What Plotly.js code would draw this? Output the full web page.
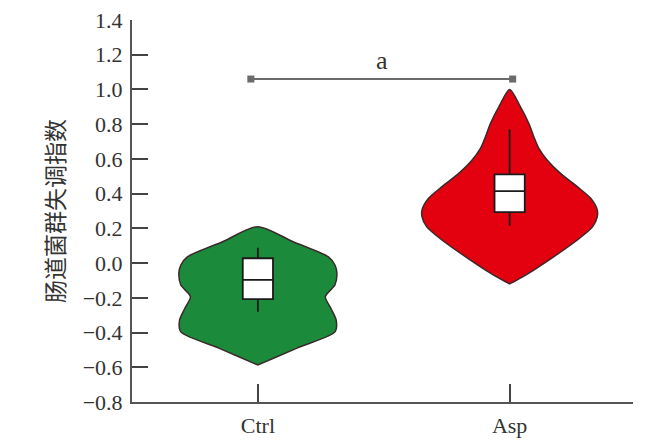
<!DOCTYPE html>
<html>
<head>
<meta charset="utf-8">
<script src="https://cdn.plot.ly/plotly-3.0.1.min.js"></script>
<style>
  html, body { margin: 0; padding: 0; background: #fff; }
  #chart { width: 664px; height: 446px; }
</style>
</head>
<body>
<div id="chart"></div>
<script>
const groups = ["Ctrl", "Asp"];
const groupPos = [0, 1];

// violin outlines: y level and half width (x units)
const ctrlY = [0.21, 0.123, 0.037, -0.011, -0.059, -0.126, -0.193, -0.26, -0.328, -0.395, -0.491, -0.587];
const ctrlHalf = [0, 0.14, 0.279, 0.306, 0.314, 0.306, 0.268, 0.29, 0.311, 0.307, 0.153, 0];
const aspY = [1.0, 0.9, 0.805, 0.728, 0.661, 0.594, 0.517, 0.44, 0.373, 0.306, 0.267, 0.21, 0.133, 0.037, -0.04, -0.097, -0.12];
const aspHalf = [0, 0.043, 0.076, 0.096, 0.116, 0.149, 0.202, 0.269, 0.322, 0.348, 0.348, 0.33, 0.269, 0.176, 0.096, 0.03, 0];

// box statistics
const q1 = [-0.207, 0.293];
const median = [-0.097, 0.415];
const q3 = [0.028, 0.511];
const lowerFence = [-0.28, 0.215];
const upperFence = [0.089, 0.77];

// significance bracket
const bracketX = [-0.028, 1.012];
const bracketY = [1.06, 1.06];
const bracketLabel = "a";

const colors = ["#1b8a3a", "#e3000f"];
const serif = "Liberation Serif, Times New Roman, serif";
const xRange = [-0.5, 1.49];

function violinOutline(center, ys, halves, color, name) {
  const x = [];
  const y = [];
  for (let i = 0; i < ys.length; i++) {
    x.push(center + halves[i]);
    y.push(ys[i]);
  }
  for (let i = ys.length - 1; i >= 0; i--) {
    x.push(center - halves[i]);
    y.push(ys[i]);
  }
  return {
    name: name,
    x: x,
    y: y,
    type: "scatter",
    mode: "lines",
    fill: "toself",
    fillcolor: color,
    line: { color: "#3a2a2a", width: 1.5, shape: "spline", smoothing: 0.75 },
    hoverinfo: "skip",
    showlegend: false,
  };
}

// boxes go on an overlaid axis so they sit above the scatter layer
function boxTrace(i) {
  return {
    type: "box",
    name: groups[i],
    orientation: "v",
    xaxis: "x2",
    x: [groupPos[i]],
    q1: [q1[i]],
    median: [median[i]],
    q3: [q3[i]],
    lowerfence: [lowerFence[i]],
    upperfence: [upperFence[i]],
    width: 0.12,
    whiskerwidth: 0,
    fillcolor: "white",
    line: { color: "#1a1a1a", width: 1.8 },
    boxpoints: false,
    showlegend: false,
  };
}

const data = [
  violinOutline(groupPos[0], ctrlY, ctrlHalf, colors[0], groups[0]),
  violinOutline(groupPos[1], aspY, aspHalf, colors[1], groups[1]),
  boxTrace(0),
  boxTrace(1),
  {
    x: bracketX,
    y: bracketY,
    type: "scatter",
    mode: "lines+markers",
    line: { color: "#6a6a6a", width: 2 },
    marker: { symbol: "square", size: 7, color: "#6a6a6a" },
    hoverinfo: "skip",
    showlegend: false,
  },
];

const layout = {
  width: 664,
  height: 446,
  margin: { l: 132, r: 31, t: 20, b: 44 },
  paper_bgcolor: "white",
  plot_bgcolor: "white",
  showlegend: false,
  font: { family: serif, size: 22, color: "#333" },
  xaxis: {
    range: xRange,
    tickvals: groupPos,
    ticktext: groups,
    ticks: "inside",
    ticklen: 18,
    tickwidth: 2,
    tickcolor: "#444",
    showline: true,
    linewidth: 2,
    linecolor: "#555",
    showgrid: false,
    zeroline: false,
    ticklabelstandoff: 3,
    tickfont: { family: serif, size: 22, color: "#333" },
  },
  xaxis2: {
    range: xRange,
    overlaying: "x",
    visible: false,
    showgrid: false,
    zeroline: false,
  },
  yaxis: {
    range: [-0.8, 1.4],
    dtick: 0.2,
    tick0: 0,
    tickformat: ".1f",
    ticks: "inside",
    ticklen: 16,
    tickwidth: 2,
    tickcolor: "#444",
    showline: true,
    linewidth: 2,
    linecolor: "#555",
    showgrid: false,
    zeroline: false,
    ticklabelstandoff: 3,
    tickfont: { family: serif, size: 22, color: "#333" },
    title: {
      text: "肠道菌群失调指数",
      standoff: 12,
      font: { family: "Noto Sans CJK SC, sans-serif", size: 23, color: "#333" },
    },
  },
  annotations: [
    {
      x: (bracketX[0] + bracketX[1]) / 2,
      y: bracketY[0],
      text: bracketLabel,
      showarrow: false,
      yanchor: "bottom",
      yshift: 2,
      font: { family: serif, size: 26, color: "#333" },
    },
  ],
};

Plotly.newPlot("chart", data, layout, { displayModeBar: false, staticPlot: true });
</script>
</body>
</html>
